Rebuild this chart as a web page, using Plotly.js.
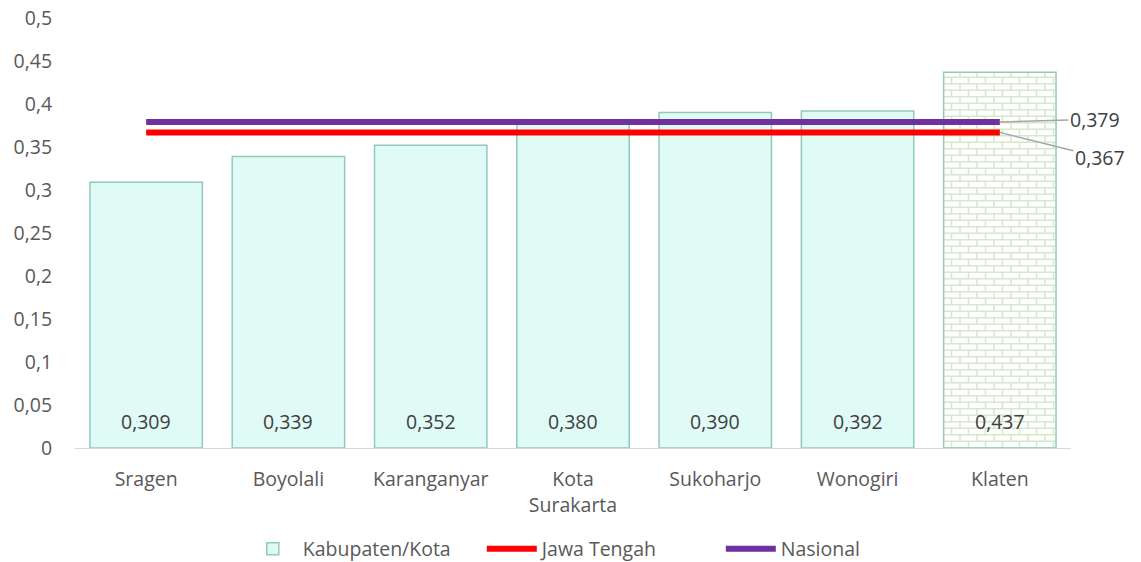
<!DOCTYPE html>
<html>
<head>
<meta charset="utf-8">
<script src="https://cdn.plot.ly/plotly-3.0.1.min.js"></script>
<style>html,body{margin:0;padding:0;background:#fff;}#chart{width:1141px;height:562px;}</style>
</head>
<body>
<div id="chart"></div>
<script>
const categories = ["Sragen", "Boyolali", "Karanganyar", "Kota<br>Surakarta", "Sukoharjo", "Wonogiri", "Klaten"];
const kabupatenValues = [0.309, 0.339, 0.352, 0.380, 0.390, 0.392, 0.437];
const jawaTengahValues = [0.367, 0.367, 0.367, 0.367, 0.367, 0.367, 0.367];
const nasionalValues = [0.379, 0.379, 0.379, 0.379, 0.379, 0.379, 0.379];
const yTickValues = [0, 0.05, 0.1, 0.15, 0.2, 0.25, 0.3, 0.35, 0.4, 0.45, 0.5];

const fmt = v => v.toFixed(3).replace('.', ',');
const FONT = "'Open Sans', 'Noto Sans', sans-serif";
const txtColor = "#595959";
const FS = 19.5;

const n = categories.length;
const fillColors = categories.map((c, i) => i === n - 1 ? "#ffffff" : "#e0faf5");

const traces = [
  {
    type: "bar", name: "Kabupaten/Kota", x: categories, y: kabupatenValues,
    marker: {color: fillColors, line: {color: "#93c9bd", width: 1.5}},
    hoverinfo: "skip"
  },
  {
    type: "scatter", mode: "lines", name: "Jawa Tengah", x: categories, y: jawaTengahValues,
    line: {color: "#ff0000", width: 6}, hoverinfo: "skip"
  },
  {
    type: "scatter", mode: "lines", name: "Nasional", x: categories, y: nasionalValues,
    line: {color: "#7030a0", width: 6}, hoverinfo: "skip"
  }
];

const annotations = categories.map((c, i) => ({
  x: c, y: 0.031, xref: "x", yref: "y", text: fmt(kabupatenValues[i]),
  showarrow: false, font: {family: FONT, size: FS, color: "#404040"}
}));
annotations.push({
  x: categories[n - 1], y: nasionalValues[n - 1], xref: "x", yref: "y",
  text: fmt(nasionalValues[n - 1]), showarrow: true, arrowhead: 0, arrowwidth: 1.5,
  arrowcolor: "#a6a6a6", ax: 95, ay: -3, font: {family: FONT, size: FS, color: "#404040"}
});
annotations.push({
  x: categories[n - 1], y: jawaTengahValues[n - 1], xref: "x", yref: "y",
  text: fmt(jawaTengahValues[n - 1]), showarrow: true, arrowhead: 0, arrowwidth: 1.5,
  arrowcolor: "#a6a6a6", ax: 100, ay: 25, font: {family: FONT, size: FS, color: "#404040"}
});

const layout = {
  width: 1141, height: 562,
  margin: {l: 75, r: 70, t: 18, b: 114, autoexpand: false},
  paper_bgcolor: "#ffffff", plot_bgcolor: "#ffffff",
  separators: ", ",
  font: {family: FONT, size: FS, color: txtColor},
  bargap: 0.21,
  showlegend: true,
  legend: {orientation: "h", x: 0.527, xanchor: "center", xref: "container",
           y: 0.023, yanchor: "middle", yref: "container", itemwidth: 50,
           entrywidth: 174, entrywidthmode: "pixels",
           font: {family: FONT, size: FS, color: txtColor}, traceorder: "normal"},
  xaxis: {
    type: "category", range: [-0.5, 6.5], showgrid: false, showline: true, linecolor: "#d9d9d9", linewidth: 1,
    ticks: "outside", ticklen: 14, tickcolor: "rgba(0,0,0,0)",
    tickfont: {family: FONT, size: FS, color: txtColor}, zeroline: false
  },
  yaxis: {
    range: [0, 0.5], tickvals: yTickValues, showgrid: false, showline: false, zeroline: false,
    ticks: "outside", ticklen: 18, tickcolor: "rgba(0,0,0,0)",
    tickfont: {family: FONT, size: FS, color: txtColor}
  },
  annotations: annotations,
  hovermode: false
};

Plotly.newPlot("chart", traces, layout, {staticPlot: true, displayModeBar: false}).then(gd => {
  const NS = "http://www.w3.org/2000/svg";
  const svg = gd.querySelector("svg.main-svg");
  let defs = svg.querySelector("defs");
  const pat = document.createElementNS(NS, "pattern");
  pat.setAttribute("id", "brickPattern");
  pat.setAttribute("patternUnits", "userSpaceOnUse");
  pat.setAttribute("width", "17");
  pat.setAttribute("height", "13");
  const bg = document.createElementNS(NS, "rect");
  bg.setAttribute("width", "17"); bg.setAttribute("height", "13"); bg.setAttribute("fill", "#ffffff");
  pat.appendChild(bg);
  const p = document.createElementNS(NS, "path");
  p.setAttribute("d", "M0,0.75H17M0,7.25H17M1,0.75V7.25M9.5,7.25V13");
  p.setAttribute("stroke", "#d3e9c9");
  p.setAttribute("stroke-width", "1.5");
  p.setAttribute("fill", "none");
  pat.appendChild(p);
  defs.appendChild(pat);
  const paths = gd.querySelectorAll(".barlayer .trace .point path");
  const last = paths[paths.length - 1];
  if (last) last.style.fill = "url(#brickPattern)";
});
</script>
</body>
</html>
